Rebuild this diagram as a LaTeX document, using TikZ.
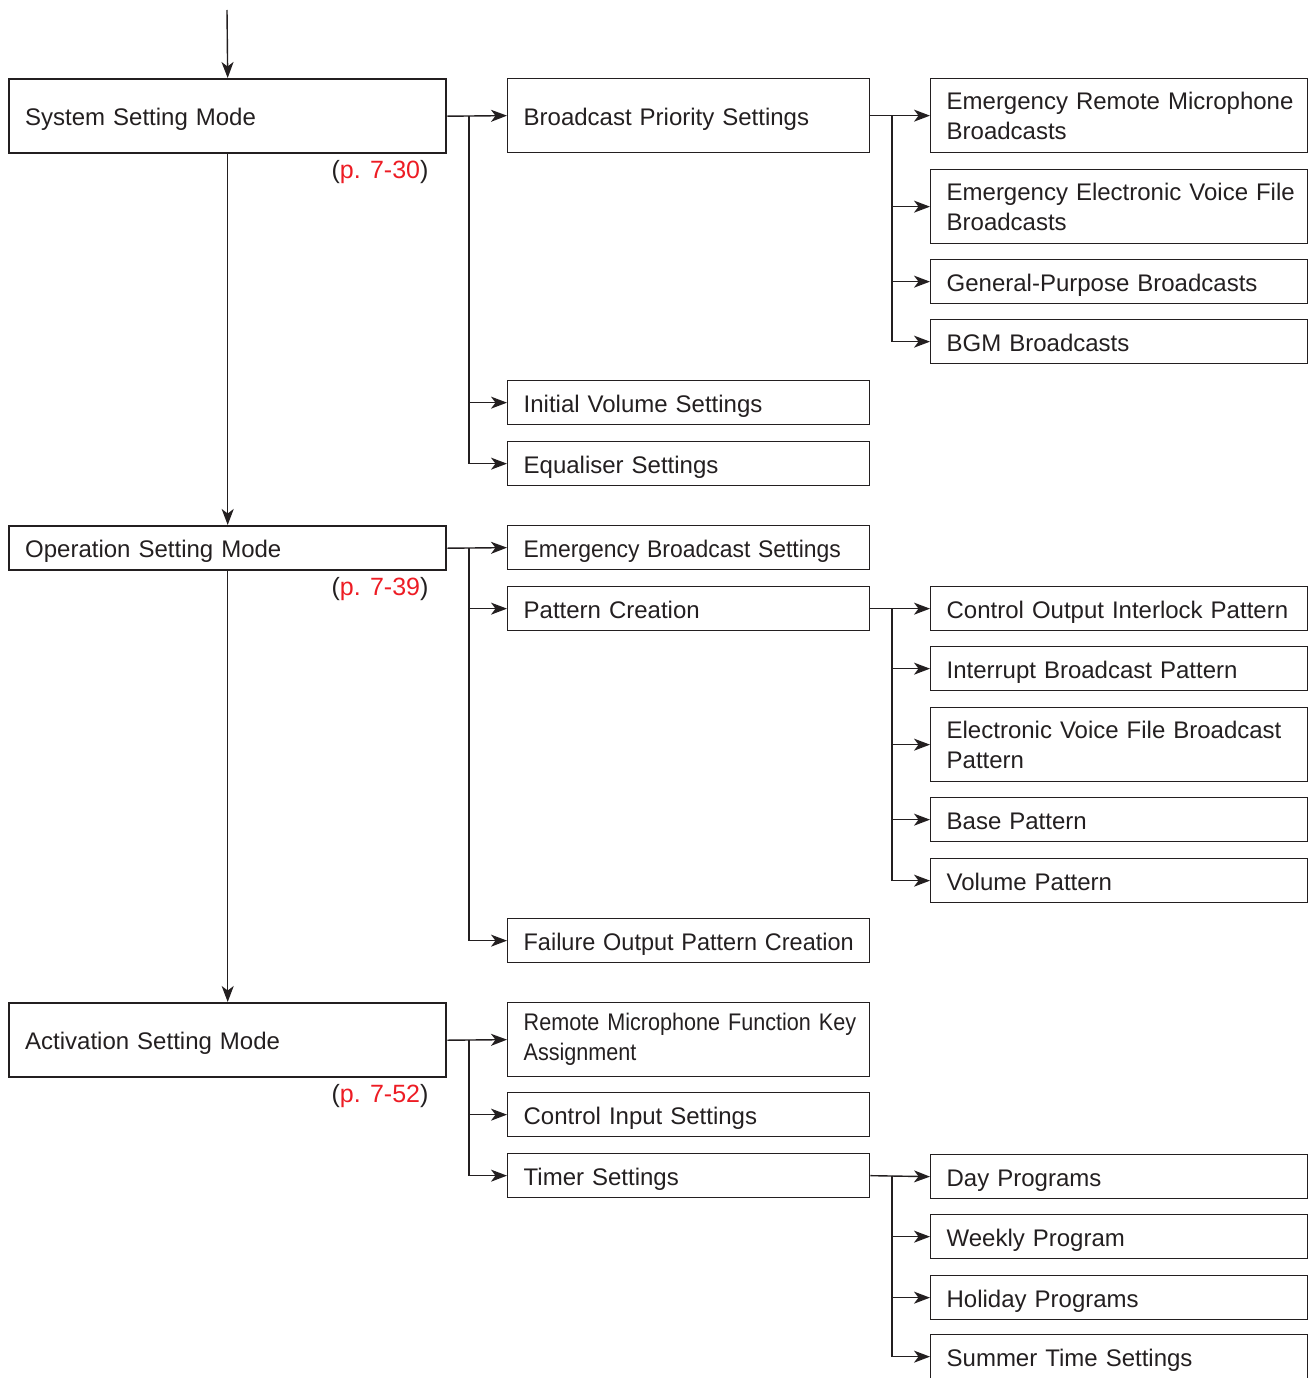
\documentclass[tikz,border=0pt]{standalone}
\usepackage{fontspec}
\usepackage{graphicx}
\setmainfont{Liberation Sans}
\newfontfamily\narrowfont[FakeStretch=0.9]{Liberation Sans}
\usetikzlibrary{arrows.meta}
\definecolor{ink}{HTML}{231F20}
\definecolor{refred}{HTML}{ED1C24}

\tikzset{
  basebox/.style={draw=ink, text=ink, anchor=north west, align=left,
    inner xsep=16pt, inner ysep=0pt,
    font=\fontsize{24}{30}\selectfont},
  modebox/.style={basebox, line width=2.4pt, minimum width=437pt, text width=405pt},
  midbox/.style={basebox, line width=1.3pt, minimum width=362pt, text width=330pt},
  leafbox/.style={basebox, line width=1.3pt, minimum width=377pt, text width=345pt},
  oneline/.style={text height=21pt, text depth=2pt},
  short/.style={minimum height=44pt, oneline},
  tall/.style={minimum height=74pt},
  link/.style={draw=ink, line width=1.4pt},
  flow/.style={link, -{Stealth[length=16pt,width=12pt,inset=4.5pt]}},
  pageref/.style={anchor=east, text=ink, font=\fontsize{25}{30}\selectfont},
}

\begin{document}
\begin{tikzpicture}[x=1pt, y=-1pt]
  \useasboundingbox (0,0) rectangle (1314,1378);

  % trunk positions
  \coordinate (entry) at (227,10);
  \coordinate (ta) at (469,0);
  \coordinate (tb) at (892,0);

  % setting modes
  \node[modebox, tall, oneline] (sys) at (8,78)   {System Setting Mode};
  \node[modebox, short]         (op)  at (8,525)  {Operation Setting Mode};
  \node[modebox, tall, oneline] (act) at (8,1002) {Activation Setting Mode};

  \node[pageref] (ref1) at (432,172)  {(\textcolor{refred}{p. 7-30})};
  \node[pageref] (ref2) at (432,589)  {(\textcolor{refred}{p. 7-39})};
  \node[pageref] (ref3) at (432,1096) {(\textcolor{refred}{p. 7-52})};

  % second level
  \node[midbox, tall, oneline] (bps) at (507,78)   {Broadcast Priority Settings};
  \node[midbox, short] (ivs) at (507,380)  {Initial Volume Settings};
  \node[midbox, short] (eqs) at (507,441)  {Equaliser Settings};
  \node[midbox, short] (ebs) at (507,525)  {\scalebox{0.955}[1]{Emergency Broadcast Settings}};
  \node[midbox, short] (pcr) at (507,586)  {Pattern Creation};
  \node[midbox, short] (fop) at (507,918)  {\scalebox{0.978}[1]{Failure Output Pattern Creation}};
  \node[midbox, tall]  (rmf) at (507,1002) {\mbox{\narrowfont Remote Microphone Function Key}\\\narrowfont Assignment};
  \node[midbox, short] (cis) at (507,1092) {Control Input Settings};
  \node[midbox, short] (tms) at (507,1153) {Timer Settings};

  % third level
  \node[leafbox, tall]  (erm) at (930,78)   {\mbox{Emergency Remote Microphone}\\Broadcasts};
  \node[leafbox, tall]  (eev) at (930,169)  {\mbox{Emergency Electronic Voice File}\\Broadcasts};
  \node[leafbox, short] (gpb) at (930,259)  {General-Purpose Broadcasts};
  \node[leafbox, short] (bgm) at (930,319)  {BGM Broadcasts};
  \node[leafbox, short] (coi) at (930,586)  {\mbox{Control Output Interlock Pattern}};
  \node[leafbox, short] (ibp) at (930,646)  {Interrupt Broadcast Pattern};
  \node[leafbox, tall]  (evp) at (930,707)  {\makebox[345pt][s]{Electronic Voice File Broadcast}\\Pattern};
  \node[leafbox, short] (bsp) at (930,797)  {Base Pattern};
  \node[leafbox, short] (vlp) at (930,858)  {Volume Pattern};
  \node[leafbox, short] (dpr) at (930,1154) {Day Programs};
  \node[leafbox, short] (wpr) at (930,1214) {Weekly Program};
  \node[leafbox, short] (hpr) at (930,1275) {Holiday Programs};
  \node[leafbox, short] (sts) at (930,1334) {Summer Time Settings};

  % main flow
  \draw[flow] (entry) -- (sys.north);
  \draw[flow] (sys.south) -- (op.north);
  \draw[flow] (op.south) -- (act.north);

  % system setting mode branches
  \draw[flow] (sys.east) -- (bps.west);
  \draw[flow] (sys.east -| ta) |- (ivs.west);
  \draw[flow] (sys.east -| ta) |- (eqs.west);

  % operation setting mode branches
  \draw[flow] (op.east) -- (ebs.west);
  \draw[flow] (op.east -| ta) |- (pcr.west);
  \draw[flow] (op.east -| ta) |- (fop.west);

  % activation setting mode branches
  \draw[flow] (act.east) -- (rmf.west);
  \draw[flow] (act.east -| ta) |- (cis.west);
  \draw[flow] (act.east -| ta) |- (tms.west);

  % broadcast priority branches
  \draw[flow] (bps.east) -- (erm.west);
  \draw[flow] (bps.east -| tb) |- (eev.west);
  \draw[flow] (bps.east -| tb) |- (gpb.west);
  \draw[flow] (bps.east -| tb) |- (bgm.west);

  % pattern creation branches
  \draw[flow] (pcr.east) -- (coi.west);
  \draw[flow] (pcr.east -| tb) |- (ibp.west);
  \draw[flow] (pcr.east -| tb) |- (evp.west);
  \draw[flow] (pcr.east -| tb) |- (bsp.west);
  \draw[flow] (pcr.east -| tb) |- (vlp.west);

  % timer branches
  \draw[flow] (tms.east) -- (dpr.west);
  \draw[flow] (tms.east -| tb) |- (wpr.west);
  \draw[flow] (tms.east -| tb) |- (hpr.west);
  \draw[flow] (tms.east -| tb) |- (sts.west);
\end{tikzpicture}
\end{document}
